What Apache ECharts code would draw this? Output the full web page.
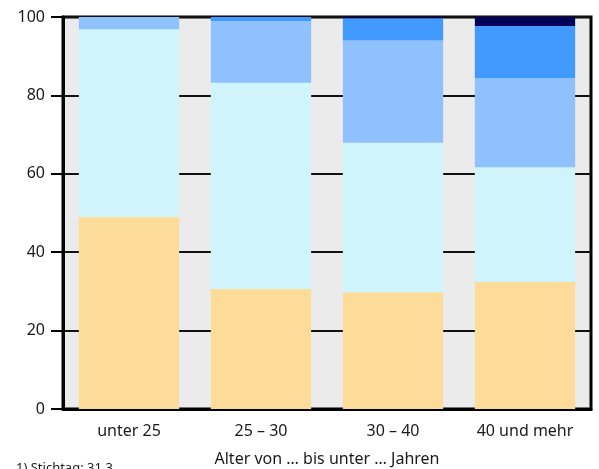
<!DOCTYPE html>
<html><head><meta charset="utf-8">
<script src="https://cdn.jsdelivr.net/npm/echarts@6/dist/echarts.min.js"></script>
<style>html,body{margin:0;padding:0;background:#fff}#c{width:599px;height:469px}</style>
</head><body><div id="c"></div>
<script>
const categories = ['unter 25', '25 – 30', '30 – 40', '40 und mehr'];
const seg1 = [49.0, 30.6, 29.8, 32.4];
const seg2 = [47.9, 52.6, 38.1, 29.3];
const seg3 = [3.1, 15.8, 26.1, 22.7];
const seg4 = [0, 1.0, 5.7, 13.3];
const seg5 = [0, 0, 0.3, 2.3];
const yTicks = [0, 20, 40, 60, 80, 100];
const seriesNames = ['Gruppe 1', 'Gruppe 2', 'Gruppe 3', 'Gruppe 4', 'Gruppe 5'];
const colors = ['#fddb98', '#d0f4fc', '#8fc1fe', '#4299fe', '#000058'];
const segs = [seg1, seg2, seg3, seg4, seg5];

const font = '"Noto Sans", sans-serif';
const chart = echarts.init(document.getElementById('c'), null, {renderer: 'canvas'});
chart.setOption({
  animation: false,
  grid: {left: 63, right: 8, top: 17, bottom: 60, containLabel: false, outerBoundsMode: 'none',
         show: true, backgroundColor: '#ebebeb', borderColor: '#000', borderWidth: 3},
  xAxis: {
    type: 'category', data: categories,
    axisLine: {show: true, lineStyle: {color: '#000', width: 3}},
    axisTick: {show: false},
    axisLabel: {color: '#1a1a1a', fontSize: 16, fontFamily: font, margin: 14},
    name: 'Alter von … bis unter … Jahren', nameLocation: 'middle', nameGap: 42,
    nameTextStyle: {color: '#1a1a1a', fontSize: 16, fontFamily: font}
  },
  yAxis: {
    type: 'value', min: yTicks[0], max: yTicks[yTicks.length - 1], interval: 20,
    axisLine: {show: true, lineStyle: {color: '#000', width: 3}},
    axisTick: {show: true, length: 12, lineStyle: {color: '#000', width: 2}},
    axisLabel: {color: '#1a1a1a', fontSize: 16, fontFamily: font, margin: 18},
    splitLine: {show: true, lineStyle: {color: '#111', width: 2}}
  },
  series: segs.map((d, i) => ({
    name: seriesNames[i], type: 'bar', stack: 'total', data: d,
    barWidth: '76%', itemStyle: {color: colors[i]}
  })),
  graphic: [{
    type: 'text', left: 16, top: 462,
    style: {text: '1) Stichtag: 31.3.', fontSize: 13, fontFamily: font, fill: '#1a1a1a'}
  }]
});
</script></body></html>
